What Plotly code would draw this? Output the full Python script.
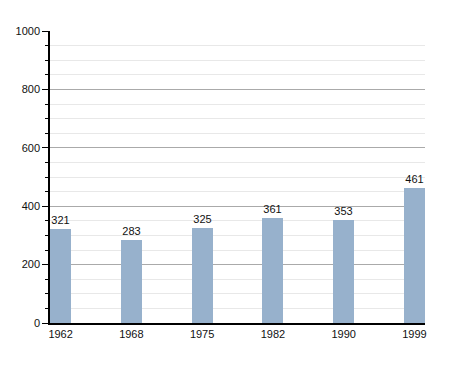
import plotly.graph_objects as go

years = ["1962", "1968", "1975", "1982", "1990", "1999"]
population = [321, 283, 325, 361, 353, 461]
y_ticks = [0, 200, 400, 600, 800, 1000]

fig = go.Figure(go.Bar(
    x=years, y=population,
    text=[str(v) for v in population],
    textposition="outside",
    cliponaxis=False,
    width=0.3,
    marker=dict(color="#97b1cc", line=dict(width=0)),
    textfont=dict(family="Liberation Sans, Arial", size=11, color="#111"),
))

fig.update_layout(
    width=455, height=373,
    margin=dict(l=50, r=30, t=31, b=50),
    paper_bgcolor="white", plot_bgcolor="white",
    showlegend=False,
    font=dict(family="Liberation Sans, Arial", size=11, color="#111"),
    bargap=0,
)
fig.update_xaxes(
    range=[-0.15, 5.15],
    showline=True, linecolor="black", linewidth=1.5,
    ticks="", showgrid=False, tickfont=dict(size=11),
)
fig.update_yaxes(
    range=[0, 1000],
    tickvals=y_ticks,
    showline=True, linecolor="black", linewidth=1.5,
    ticks="outside", ticklen=6, tickcolor="black", tickwidth=1,
    showgrid=True, gridcolor="#aaaaaa", gridwidth=1,
    zeroline=False,
    minor=dict(dtick=50, showgrid=True, gridcolor="#e8e8e8", gridwidth=1,
               ticks="outside", ticklen=3, tickcolor="black"),
    tickfont=dict(size=11),
)

fig.write_html("out.html")
